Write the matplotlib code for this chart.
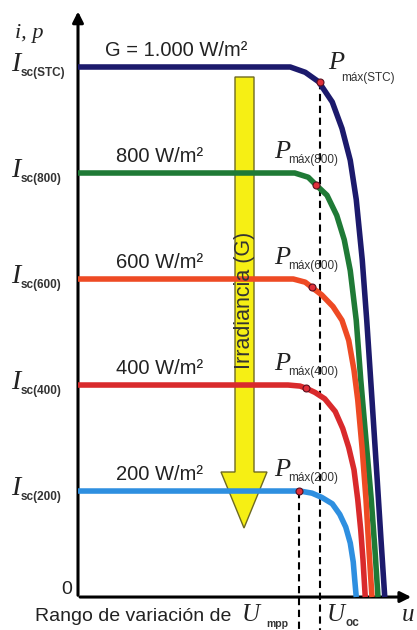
import numpy as np
import matplotlib.pyplot as plt
from matplotlib.patches import Polygon

plt.rcParams["font.family"] = ["Liberation Sans", "DejaVu Sans"]

# --- data (voltage in V, current in A) ---
curve_labels = ["G = 1.000 W/m²", "800 W/m²", "600 W/m²", "400 W/m²", "200 W/m²"]
isc_labels = ["sc(STC)", "sc(800)", "sc(600)", "sc(400)", "sc(200)"]
pmax_labels = ["máx(STC)", "máx(800)", "máx(600)", "máx(400)", "máx(200)"]
colors = ["#1c1a6c", "#1f7a36", "#ee4a24", "#d92a2c", "#2e8fe0"]

v_1000 = [0, 28.3, 30.3, 32.1, 33.9, 35.2, 36.3, 37.1, 37.9, 38.5, 39.2, 39.9, 40.4, 40.9]
i_1000 = [5.0, 5.0, 4.95, 4.86, 4.67, 4.42, 4.12, 3.75, 3.18, 2.61, 1.86, 1.10, 0.54, 0]
v_800 = [0, 28.9, 30.7, 31.7, 33.2, 34.5, 35.5, 36.3, 37.1, 37.7, 38.4, 39.1, 39.6, 40.0]
i_800 = [4.0, 4.0, 3.96, 3.89, 3.79, 3.60, 3.37, 3.08, 2.61, 2.05, 1.48, 0.92, 0.44, 0]
v_600 = [0, 28.7, 30.3, 31.2, 32.5, 34.0, 35.2, 36.1, 36.8, 37.3, 37.9, 38.4, 38.8, 39.2]
i_600 = [3.0, 3.0, 2.97, 2.92, 2.85, 2.74, 2.61, 2.42, 2.14, 1.86, 1.39, 0.92, 0.44, 0]
v_400 = [0, 28.0, 29.6, 30.4, 31.6, 32.9, 34.3, 35.3, 36.1, 36.8, 37.3, 37.7, 38.0, 38.3]
i_400 = [2.0, 2.0, 1.99, 1.97, 1.93, 1.87, 1.75, 1.59, 1.41, 1.20, 0.92, 0.63, 0.35, 0]
v_200 = [0, 29.6, 31.2, 32.5, 33.9, 34.9, 35.7, 36.3, 36.7, 36.9, 37.1]
i_200 = [1.0, 1.0, 0.98, 0.94, 0.88, 0.78, 0.66, 0.51, 0.33, 0.16, 0]

vmp = [32.2, 31.7, 31.2, 30.4, 29.4]
imp = [4.86, 3.89, 2.92, 1.97, 1.0]

volts = [v_1000, v_800, v_600, v_400, v_200]
amps = [i_1000, i_800, i_600, i_400, i_200]
isc = [a[0] for a in amps]

fig = plt.figure(figsize=(4.17, 6.3), dpi=100)

# pixel overlay (background) for the yellow arrow and free text
px = fig.add_axes([0, 0, 1, 1])
px.set_xlim(0, 417)
px.set_ylim(630, 0)
px.axis("off")

ax = fig.add_axes([0, 0, 1, 1])
ax.set_xlim(-10.4, 45.2)
ax.set_ylim(-0.311, 5.632)
ax.axis("off")
ax.patch.set_alpha(0)

# yellow "Irradiancia" arrow
arrow = Polygon([(235, 77), (254, 77), (254, 472), (267, 472), (244, 528),
                 (221, 472), (235, 472)], closed=True,
                facecolor="#f6ef14", edgecolor="#6e6a22", lw=1.0)
px.add_patch(arrow)

# axes with arrow heads
ax.annotate("", xy=(44.8, 0), xytext=(-0.1, 0),
            arrowprops=dict(arrowstyle="-|>", lw=2.2, color="k", mutation_scale=16))
ax.annotate("", xy=(0, 5.55), xytext=(0, -0.01),
            arrowprops=dict(arrowstyle="-|>", lw=2.2, color="k", mutation_scale=16))

# dashed lines for the MPP range
ax.plot([vmp[0], vmp[0]], [imp[0], -0.32], color="k", lw=1.5, ls=(0, (3.5, 2.2)))
ax.plot([vmp[4], vmp[4]], [imp[4], -0.32], color="k", lw=1.5, ls=(0, (3.5, 2.2)))

# curves
for v, a, c in zip(volts, amps, colors):
    ax.plot(v, a, color=c, lw=4.0, solid_joinstyle="round", solid_capstyle="butt", zorder=3)
ax.plot(vmp, imp, "o", ms=5, mfc="#e0303a", mec="#5a1020", mew=0.8, zorder=4)

serif = ["Liberation Serif", "DejaVu Serif"]

# labels for each curve
for k in range(5):
    x0 = 3.6 if k == 0 else 5.0
    ax.text(x0, isc[k] + 0.16, curve_labels[k], fontsize=14.5, color="#222",
            va="center", ha="left", zorder=5)
    ax.text(-8.9, isc[k] - 0.04, "I", family=serif, style="italic", fontsize=20,
            color="#222", va="baseline", ha="left")
    ax.text(-7.6, isc[k] - 0.06, isc_labels[k], fontsize=8.5, weight="bold",
            color="#333", va="center", ha="left")
    if k == 0:
        px_x, sub_x, base, sub_y = 33.3, 35.1, isc[k] - 0.02, isc[k] - 0.10
    else:
        px_x, sub_x, base, sub_y = 26.1, 28.0, isc[k] + 0.14, isc[k] + 0.12
    ax.text(px_x, base, "P", family=serif, style="italic", fontsize=19,
            color="#222", va="baseline", ha="left")
    ax.text(sub_x, sub_y, pmax_labels[k], fontsize=8.5, color="#333",
            va="center", ha="left")

# pixel-placed text
ax.text(245, 300, "Irradiancia (G)", transform=px.transData, rotation=90,
        fontsize=15.5, color="#333", ha="center", va="center", zorder=6)
px.text(15, 38, "i, p", family=serif, style="italic", fontsize=16, color="#222",
        va="baseline")
px.text(67, 590, "0", fontsize=14, color="#222", ha="center", va="center")
px.text(35, 621, "Rango de variación de ", fontsize=14, color="#222", va="baseline")
px.text(242, 621, "U", family=serif, style="italic", fontsize=18, color="#222", va="baseline")
px.text(266, 624, "mpp", fontsize=7.5, weight="bold", color="#333", va="center")
px.text(327, 621, "U", family=serif, style="italic", fontsize=18, color="#222", va="baseline")
px.text(346, 623, "oc", fontsize=8.5, weight="bold", color="#333", va="center")
px.text(402, 621, "u", family=serif, style="italic", fontsize=18, color="#222", va="baseline")

fig.savefig("out.png", dpi=100)
